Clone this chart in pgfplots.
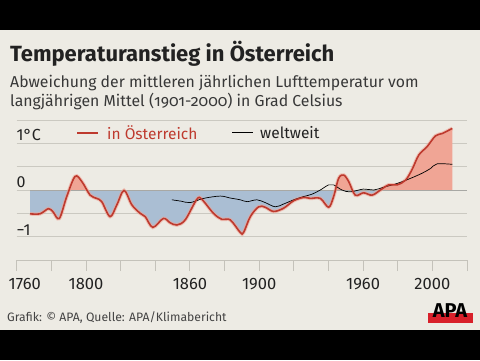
\documentclass[border=0pt]{standalone}
\usepackage{pgfplots}
\pgfplotsset{compat=1.18}
\usepackage{fontspec}
\setmainfont{Fira Sans}
\newfontfamily\oldnum[Numbers=OldStyle]{Fira Sans}
\definecolor{bg}{HTML}{EDEBE4}
\definecolor{salm}{HTML}{F0A595}
\definecolor{bluef}{HTML}{AABED3}
\definecolor{redl}{HTML}{BE3A2E}
\definecolor{halo}{HTML}{EFA394}
\definecolor{gridc}{HTML}{CBC9C1}
\definecolor{zeroc}{HTML}{A8A8A4}
\definecolor{tickc}{HTML}{C4C2BA}
\definecolor{txt}{HTML}{222222}
\definecolor{apared}{HTML}{D8202A}

\pgfplotstableread{
year val
1767.7 -0.51
1773.5 -0.51
1778.3 -0.40
1781.0 -0.47
1784.6 -0.61
1788.9 -0.14
1793.7 0.29
1797.6 0.18
1802.4 -0.11
1806.2 -0.18
1809.1 -0.25
1813.9 -0.57
1817.8 -0.32
1822.0 -0.01
1826.5 -0.32
1831.3 -0.50
1834.2 -0.57
1838.6 -0.80
1844.7 -0.61
1848.5 -0.70
1852.5 -0.75
1857.3 -0.64
1864.0 -0.20
1866.9 -0.20
1873.6 -0.50
1878.5 -0.63
1883.3 -0.64
1889.1 -0.91
1891.0 -0.91
1894.9 -0.57
1899.7 -0.36
1903.5 -0.37
1908.3 -0.46
1914.1 -0.39
1919.9 -0.23
1925.7 -0.16
1929.5 -0.18
1935.3 -0.18
1940.1 -0.37
1943.0 -0.14
1945.9 0.25
1948.8 0.32
1951.7 0.18
1955.5 -0.11
1960.3 -0.06
1965.2 -0.11
1970.0 0.00
1974.8 0.11
1979.7 0.11
1984.5 0.21
1988.3 0.44
1992.2 0.75
1997.0 0.93
2001.8 1.16
2005.7 1.21
2011.5 1.32
}\aut

\pgfplotstableread{
year val
1849.6 -0.21
1855.0 -0.24
1860.2 -0.27
1867.9 -0.18
1877.5 -0.13
1883.0 -0.17
1889.1 -0.21
1893.0 -0.25
1898.7 -0.21
1903.5 -0.27
1909.3 -0.36
1914.1 -0.30
1920.0 -0.21
1925.7 -0.14
1930.5 -0.09
1935.3 0.00
1940.1 0.11
1943.0 0.11
1947.8 0.00
1952.6 -0.04
1960.3 0.02
1966.2 0.00
1971.9 0.06
1979.7 0.14
1987.4 0.25
1994.1 0.36
1998.9 0.46
2002.7 0.56
2011.5 0.55
}\glob

\begin{document}
\begin{tikzpicture}[x=1pt,y=1pt]
\fill[black] (0,0) rectangle (480,360);
\fill[bg] (0,30) rectangle (480,330);
% horizontal grid lines (1.5, 1, 0.5, 0, -0.5, -1 degrees)
\foreach \gy in {240,216.67,193.33,170,146.67,123.33}{
  \draw[gridc, line width=1pt] (16.7,\gy) -- (467,\gy);
}
\begin{axis}[
  at={(16.7pt,100pt)}, anchor=south west,
  scale only axis, width=450.3pt, height=140pt,
  xmin=1760, xmax=2020, ymin=-1.5, ymax=1.5,
  axis x line*=bottom, axis y line*=left,
  x axis line style={draw=tickc, line width=0.8pt, -},
  y axis line style={draw=none},
  xtick={1760,1780,...,2020},
  xticklabels={{\hspace{16pt}1760},{},{1800},{},{},{1860},{},{1900},{},{},{1960},{},{2000},{}},
  tick align=outside, major tick length=11pt,
  xtick style={draw=tickc, line width=0.8pt},
  xticklabel style={font=\fontsize{16.5}{16.5}\selectfont, text=txt, yshift=-4pt},
  ytick=\empty,
  clip=false,
]
\begin{scope}
\clip (axis cs:1750,0) rectangle (axis cs:2030,2);
\addplot[fill=salm, draw=none, smooth, tension=0.55] table[x=year,y=val] {\aut} -- (axis cs:2011.5,0) -- (axis cs:1767.7,0) -- cycle;
\end{scope}
\begin{scope}
\clip (axis cs:1750,-2) rectangle (axis cs:2030,0);
\addplot[fill=bluef, draw=none, smooth, tension=0.55] table[x=year,y=val] {\aut} -- (axis cs:2011.5,0) -- (axis cs:1767.7,0) -- cycle;
\end{scope}
\addplot[draw=zeroc, line width=1pt] coordinates {(1767.7,0) (2020,0)};
\addplot[draw=halo, line width=3.6pt, opacity=0.6, smooth, tension=0.55] table[x=year,y=val] {\aut};
\addplot[draw=black, line width=0.7pt, smooth, tension=0.55] table[x=year,y=val] {\glob};
\addplot[draw=redl, line width=1.6pt, smooth, tension=0.55] table[x=year,y=val] {\aut};
\end{axis}

% title and subtitle
\node[anchor=base west, inner sep=0, text=txt] at (10,298.5) {\fontsize{22}{22}\selectfont\bfseries Temperaturanstieg in Österreich};
\node[anchor=base west, inner sep=0, text=txt!90] at (10,273) {\fontsize{15.8}{15.8}\selectfont Abweichung der mittleren jährlichen Lufttemperatur vom};
\node[anchor=base west, inner sep=0, text=txt!90] at (10,254) {\fontsize{15.8}{15.8}\selectfont langjährigen Mittel ({\oldnum 1901-2000}) in Grad Celsius};

% y labels
\node[anchor=west, inner sep=0, text=txt] at (16.5,225) {\fontsize{16}{16}\selectfont 1°C};
\node[anchor=west, inner sep=0, text=txt] at (16.5,178) {\fontsize{16}{16}\selectfont 0};
\node[anchor=west, inner sep=0, text=txt] at (16.5,130) {\fontsize{16}{16}\selectfont −1};

% legend
\draw[redl, line width=2pt] (77,227.3) -- (98,227.3);
\node[anchor=west, inner sep=0, text=redl] at (107,227.3) {\fontsize{15.5}{15.5}\selectfont in Österreich};
\draw[black, line width=0.8pt] (232,227.3) -- (253,227.3);
\node[anchor=west, inner sep=0, text=txt] at (260,227.3) {\fontsize{15.5}{15.5}\selectfont weltweit};

% footer
\node[anchor=base west, inner sep=0, text=txt!85] at (7,38.5) {\fontsize{12.2}{12.2}\selectfont Grafik: © APA, Quelle: APA/Klimabericht};
\fill[apared] (427.5,37) rectangle (472.7,47);
\node[anchor=base, inner sep=0, text=black] at (450,43) {\fontsize{20}{20}\selectfont\bfseries APA};
\pgfresetboundingbox
\path[use as bounding box] (0,0) rectangle (480,360);
\end{tikzpicture}
\end{document}
